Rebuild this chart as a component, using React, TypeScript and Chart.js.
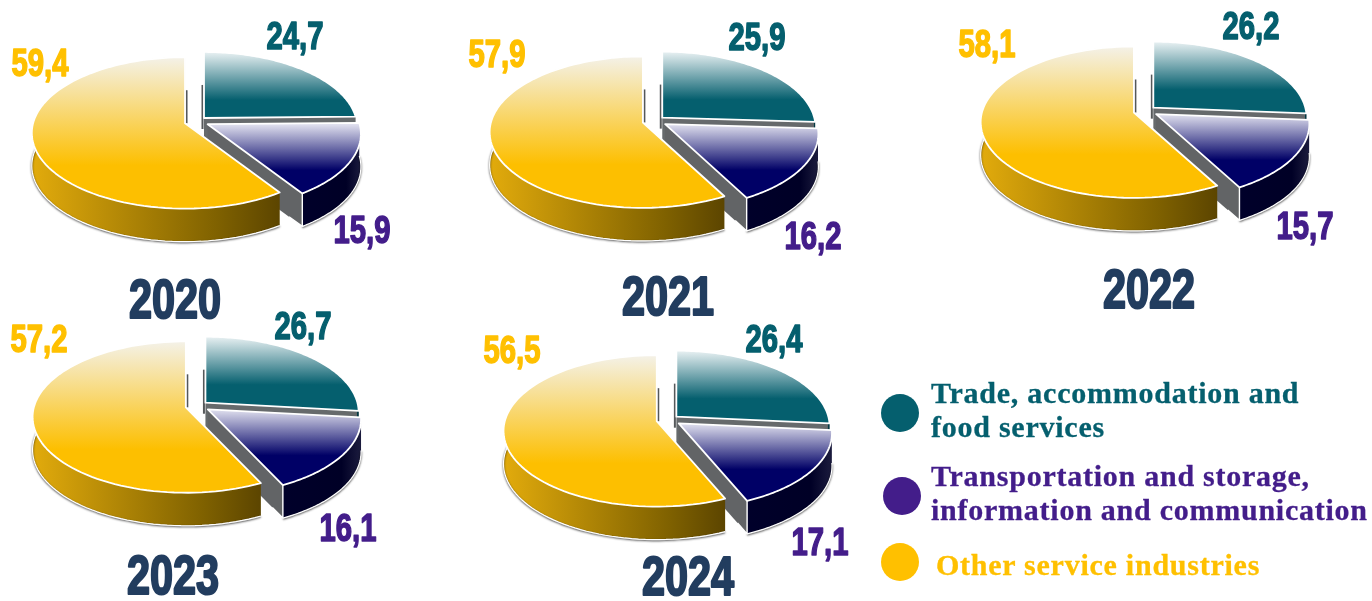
import React, { useEffect, useRef } from "react";
import { Chart, registerables } from "chart.js";

Chart.register(...registerables);

const W = 1372;
const H = 601;

// ---- data ----
const years = ["2020", "2021", "2022", "2023", "2024"];
const categories = [
  "Trade, accommodation and food services",
  "Transportation and storage, information and communication",
  "Other service industries",
];
const trade = [24.7, 25.9, 26.2, 26.7, 26.4];
const transport = [15.9, 16.2, 15.7, 16.1, 17.1];
const other = [59.4, 57.9, 58.1, 57.2, 56.5];

// ---- layout and style ----
const centers = [
  [197, 121.5],
  [655, 121],
  [1146, 111],
  [198, 406],
  [669, 420],
];
const labelPos = [
  [[295, 39], [362, 233], [40, 66]],
  [[757, 40], [813, 239], [497, 57]],
  [[1251, 29], [1305, 229], [987, 47]],
  [[303, 329], [348, 531], [39, 342]],
  [[774, 342], [820, 545], [512, 353]],
];
const yearPos = [
  [175, 303],
  [668, 300],
  [1149, 293],
  [173, 579],
  [688, 580],
];
const sliceColors = ["#055f6e", "#431d8a", "#ffc000"];
const sliceOffsets = [10, 12, 12.5];
const yearColor = "#223d5f";
const topStyle = [
  { light: "#e4eef0", full: "#055f6e", from: -65, to: -18 },
  { light: "#ebebf5", full: "#000066", from: -2, to: 46 },
  { light: "#f4f1e6", full: "#fdbf00", from: -65, to: 42 },
];
const wallStyle = [
  ["#033a44", "#033a44", "#033a44"],
  ["#00002a", "#000026", "#1c1c3e"],
  ["#e2ab0c", "#7f6100", "#5c4500"],
];
const DEPTH = 33;
const RADIUS = 152;
const SQUASH = 0.49;
const PERSPECTIVE = -0.1275;
const NARROW = '"Liberation Sans", sans-serif';

type Pt = [number, number];

function project(cx: number, cy: number, R: number, angle: number): Pt {
  const ux = Math.cos(angle);
  const uy = Math.sin(angle);
  const d = 1 + PERSPECTIVE * uy;
  return [cx + (R * ux) / d, cy + (R * SQUASH * uy) / d];
}

function sliceGeometry(arc: any) {
  const mid = (arc.startAngle + arc.endAngle) / 2;
  const off = arc.options.offset || 0;
  const cx = arc.x + Math.cos(mid) * off;
  const cy = arc.y + Math.sin(mid) * off * SQUASH;
  const rim: Pt[] = [];
  const n = 90;
  for (let i = 0; i <= n; i++) {
    const a = arc.startAngle + ((arc.endAngle - arc.startAngle) * i) / n;
    rim.push(project(cx, cy, arc.outerRadius, a));
  }
  return { cx, cy, rim };
}

function drawEdgeLine(ctx: CanvasRenderingContext2D, x: number, y0: number, y1: number) {
  ctx.beginPath();
  ctx.moveTo(x, y0);
  ctx.lineTo(x, y1);
  ctx.strokeStyle = "#55585a";
  ctx.lineWidth = 2;
  ctx.stroke();
}

function drawSlice(ctx: CanvasRenderingContext2D, arc: any, i: number) {
  const { cx, cy, rim } = sliceGeometry(arc);
  const first = rim[0];
  const last = rim[rim.length - 1];

  // outer wall
  const xs = rim.map((p) => p[0]);
  const wg = ctx.createLinearGradient(Math.min(...xs), 0, Math.max(...xs), 0);
  wg.addColorStop(0, wallStyle[i][0]);
  wg.addColorStop(0.75, wallStyle[i][1]);
  wg.addColorStop(1, wallStyle[i][2]);

  const front = rim.filter((p) => p[1] >= cy - 2 || i === 2);

  // straight walls
  if (i === 0) {
    drawEdgeLine(ctx, cx - 1.5, first[1] + DEPTH, cy + DEPTH - 22);
    ctx.beginPath();
    ctx.moveTo(cx, cy);
    ctx.lineTo(last[0], last[1]);
    ctx.lineTo(last[0], last[1] + DEPTH);
    ctx.lineTo(cx, cy + DEPTH);
    ctx.closePath();
    ctx.fillStyle = "#666a6c";
    ctx.fill();
  }
  if (i === 1) {
    ctx.beginPath();
    ctx.moveTo(cx, cy);
    ctx.lineTo(last[0], last[1]);
    ctx.lineTo(last[0], last[1] + DEPTH);
    ctx.lineTo(cx, cy + DEPTH);
    ctx.closePath();
    ctx.fillStyle = "#626466";
    ctx.fill();
  }
  if (i === 2) {
    drawEdgeLine(ctx, cx + 1.5, last[1] + DEPTH, cy);
  }

  if (front.length > 1) {
    ctx.save();
    ctx.beginPath();
    front.forEach((p, k) => (k ? ctx.lineTo(p[0], p[1]) : ctx.moveTo(p[0], p[1])));
    for (let k = front.length - 1; k >= 0; k--) ctx.lineTo(front[k][0], front[k][1] + DEPTH);
    ctx.closePath();
    ctx.fillStyle = wg;
    ctx.fill();
    ctx.beginPath();
    front.forEach((p, k) =>
      k ? ctx.lineTo(p[0], p[1] + DEPTH) : ctx.moveTo(p[0], p[1] + DEPTH)
    );
    ctx.shadowColor = "rgba(0,0,0,0.85)";
    ctx.shadowBlur = 2;
    ctx.shadowOffsetY = 1;
    ctx.strokeStyle = "#ffffff";
    ctx.lineWidth = 1.2;
    ctx.stroke();
    ctx.restore();
    if (i === 1) {
      ctx.beginPath();
      ctx.moveTo(last[0], last[1]);
      ctx.lineTo(last[0], last[1] + DEPTH);
      ctx.lineTo(cx + (last[0] - cx) * 0.86, last[1] + DEPTH - (last[1] - cy) * 0.14);
      ctx.strokeStyle = "#ffffff";
      ctx.lineWidth = 1.4;
      ctx.stroke();
    }
  }

  // top face
  const s = topStyle[i];
  const g = ctx.createLinearGradient(0, cy + s.from, 0, cy + s.to);
  g.addColorStop(0, s.light);
  g.addColorStop(1, s.full);
  ctx.beginPath();
  ctx.moveTo(cx, cy);
  rim.forEach((p) => ctx.lineTo(p[0], p[1]));
  ctx.closePath();
  ctx.fillStyle = g;
  ctx.fill();
  ctx.strokeStyle = "#ffffff";
  ctx.lineWidth = 1.8;
  ctx.lineJoin = "round";
  ctx.stroke();
}

function narrowText(
  ctx: CanvasRenderingContext2D,
  text: string,
  x: number,
  y: number,
  size: number,
  color: string,
  xScale: number
) {
  ctx.save();
  ctx.translate(x, y);
  ctx.scale(xScale, 1);
  ctx.font = `bold ${size}px ${NARROW}`;
  ctx.textAlign = "center";
  ctx.textBaseline = "middle";
  ctx.fillStyle = color;
  ctx.strokeStyle = color;
  ctx.lineWidth = size * 0.04;
  ctx.lineJoin = "round";
  ctx.fillText(text, 0, 0);
  ctx.strokeText(text, 0, 0);
  ctx.restore();
}

const pie3d = {
  id: "pie3d",
  beforeDatasetsDraw(chart: any) {
    const ctx = chart.ctx as CanvasRenderingContext2D;
    const arcs = chart.getDatasetMeta(0).data;
    ctx.save();
    arcs.forEach((arc: any, i: number) => drawSlice(ctx, arc, i));
    ctx.restore();
    const idx = chart.options.plugins.pie3d.index;
    chart.data.datasets[0].data.forEach((v: number, i: number) => {
      const [x, y] = labelPos[idx][i];
      narrowText(ctx, v.toFixed(1).replace(".", ","), x, y, 38, sliceColors[i], 0.77);
    });
    const [yx, yy] = yearPos[idx];
    narrowText(ctx, years[idx], yx, yy, 56, yearColor, 0.74);
    return false;
  },
};

function PieCanvas({ index }: { index: number }) {
  const ref = useRef<HTMLCanvasElement>(null);
  useEffect(() => {
    const [x0, y0] = centers[index];
    const h = 100;
    const chart = new Chart(ref.current as HTMLCanvasElement, {
      type: "pie",
      data: {
        labels: categories,
        datasets: [
          {
            data: [trade[index], transport[index], other[index]],
            backgroundColor: sliceColors,
            borderWidth: 0,
            offset: sliceOffsets,
          },
        ],
      },
      options: {
        responsive: false,
        animation: false,
        events: [],
        radius: RADIUS,
        layout: {
          padding: { left: x0 - h, right: W - x0 - h, top: y0 - h, bottom: H - y0 - h },
        },
        plugins: {
          legend: { display: false },
          tooltip: { enabled: false },
          pie3d: { index },
        },
      } as any,
      plugins: [pie3d as any],
    });
    return () => chart.destroy();
  }, [index]);
  return (
    <canvas
      ref={ref}
      width={W}
      height={H}
      style={{ position: "absolute", left: 0, top: 0, width: W, height: H }}
    />
  );
}

const legendLines = [
  ["Trade, accommodation and", "food services"],
  ["Transportation and storage,", "information and communication"],
  ["Other service industries"],
];
const legendDots = [
  [900, 413],
  [902, 496],
  [900, 562],
];
const legendText = [
  [931, 376],
  [931, 459],
  [936, 548],
];

export default function App() {
  return (
    <div style={{ position: "absolute", left: 0, top: 0, width: W, height: H, overflow: "hidden", background: "#fff" }}>
      {years.map((_, i) => (
        <PieCanvas key={i} index={i} />
      ))}
      {legendLines.map((lines, i) => (
        <React.Fragment key={i}>
          <div
            style={{
              position: "absolute",
              left: legendDots[i][0] - 19,
              top: legendDots[i][1] - 19,
              width: 38,
              height: 38,
              borderRadius: "50%",
              background: sliceColors[i],
            }}
          />
          <div
            style={{
              position: "absolute",
              left: legendText[i][0],
              top: legendText[i][1],
              color: sliceColors[i],
              font: 'bold 30px/34px "Liberation Serif", serif',
              letterSpacing: "0.75px",
              WebkitTextStroke: "0.3px currentColor",
              whiteSpace: "nowrap",
            }}
          >
            {lines.map((l, k) => (
              <div key={k}>{l}</div>
            ))}
          </div>
        </React.Fragment>
      ))}
    </div>
  );
}
